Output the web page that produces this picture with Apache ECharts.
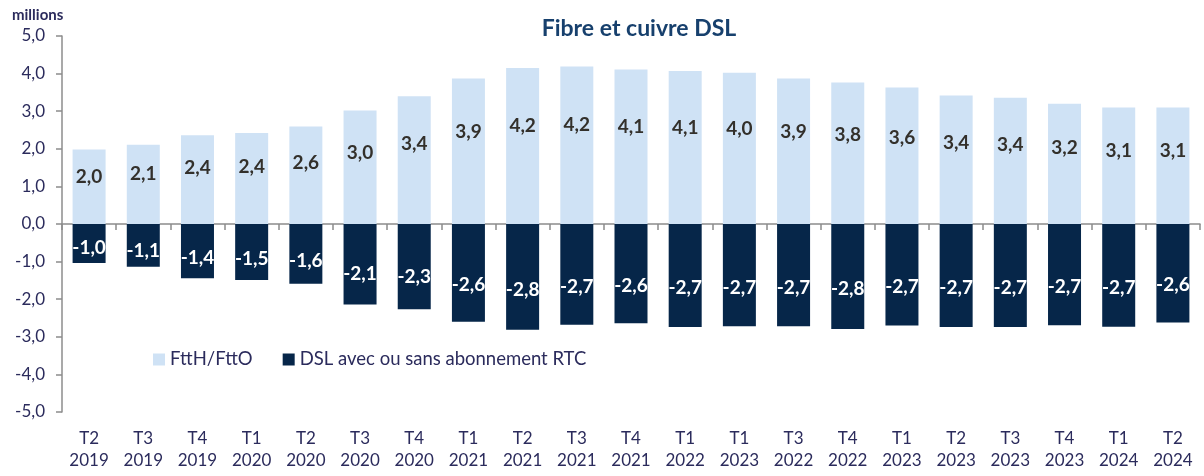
<!DOCTYPE html>
<html>
<head>
<meta charset="utf-8">
<script src="https://cdn.jsdelivr.net/npm/echarts@6/dist/echarts.min.js"></script>
<style>
  html, body { margin: 0; padding: 0; background: #fff; }
  #chart { width: 1204px; height: 476px; }
</style>
</head>
<body>
<div id="chart"></div>
<script>
// quarters as printed on the source chart (labels kept as-is)
const quarters = ['T2\n2019', 'T3\n2019', 'T4\n2019', 'T1\n2020', 'T2\n2020', 'T3\n2020', 'T4\n2020',
  'T1\n2021', 'T2\n2021', 'T3\n2021', 'T4\n2021', 'T1\n2022', 'T1\n2023', 'T3\n2022', 'T4\n2022',
  'T1\n2023', 'T2\n2023', 'T3\n2023', 'T4\n2023', 'T1\n2024', 'T2\n2024'];

// millions
const ftth = [1.98, 2.11, 2.36, 2.42, 2.59, 3.02, 3.40, 3.87, 4.15, 4.19, 4.11, 4.07, 4.02,
  3.87, 3.76, 3.63, 3.42, 3.36, 3.20, 3.10, 3.10];
const dsl = [-1.04, -1.14, -1.44, -1.49, -1.59, -2.14, -2.27, -2.60, -2.81, -2.68, -2.64, -2.74,
  -2.72, -2.72, -2.79, -2.70, -2.74, -2.74, -2.69, -2.73, -2.62];

const axisColor = '#2b2b5c';
const font = 'Lato, "Noto Sans", sans-serif';
const fmt = (v) => v.toFixed(1).replace('.', ',');

const chart = echarts.init(document.getElementById('chart'));

chart.setOption({
  animation: false,
  textStyle: { fontFamily: font },
  title: {
    text: 'Fibre et cuivre DSL',
    left: 634,
    textAlign: 'center',
    top: 12,
    textStyle: { color: '#17406d', fontSize: 23, fontWeight: 'bold', fontFamily: font }
  },
  graphic: [{
    type: 'text',
    left: 12,
    top: 8,
    style: { text: 'millions', fill: axisColor, font: 'bold 15px ' + font }
  }],
  legend: {
    left: 148,
    top: 345,
    itemWidth: 12,
    itemHeight: 12,
    itemGap: 30,
    icon: 'rect',
    textStyle: { color: axisColor, fontSize: 18.5, fontFamily: font }
  },
  grid: { left: 62, right: 4, top: 36, bottom: 64, containLabel: false },
  xAxis: [
    {
      type: 'category',
      data: quarters,
      position: 'bottom',
      axisLine: { show: false, onZero: false },
      axisTick: { show: false },
      axisLabel: { interval: 0, color: axisColor, fontSize: 17, lineHeight: 22, margin: 16, fontFamily: font }
    },
    {
      type: 'category',
      data: quarters,
      position: 'bottom',
      axisLine: { onZero: true, lineStyle: { color: '#8c8c8c', width: 1.5 } },
      axisTick: { show: true, length: 6, interval: 0, lineStyle: { color: '#8c8c8c', width: 1.5 } },
      axisLabel: { show: false }
    }
  ],
  yAxis: {
    type: 'value',
    min: -5,
    max: 5,
    interval: 1,
    axisLine: { show: true, lineStyle: { color: '#8c8c8c', width: 1.5 } },
    axisTick: { show: true, length: 6, lineStyle: { color: '#8c8c8c', width: 1.5 } },
    splitLine: { show: false },
    axisLabel: { color: axisColor, fontSize: 17, margin: 17, formatter: fmt, fontFamily: font }
  },
  series: [
    {
      name: 'FttH/FttO',
      type: 'bar',
      stack: 'total',
      barWidth: 33,
      data: ftth,
      itemStyle: { color: '#cfe2f5' },
      label: {
        show: true,
        position: ['50%', '37%'],
        align: 'center',
        verticalAlign: 'middle',
        color: '#33302b',
        fontSize: 19,
        fontWeight: 'bold',
        fontFamily: font,
        formatter: (p) => fmt(p.value)
      }
    },
    {
      name: 'DSL avec ou sans abonnement RTC',
      type: 'bar',
      stack: 'total',
      barWidth: 33,
      data: dsl,
      itemStyle: { color: '#062649' },
      label: {
        show: true,
        position: ['50%', '62%'],
        align: 'center',
        verticalAlign: 'middle',
        color: '#ffffff',
        fontSize: 19,
        fontWeight: 'bold',
        fontFamily: font,
        formatter: (p) => fmt(p.value)
      }
    }
  ]
});
</script>
</body>
</html>
